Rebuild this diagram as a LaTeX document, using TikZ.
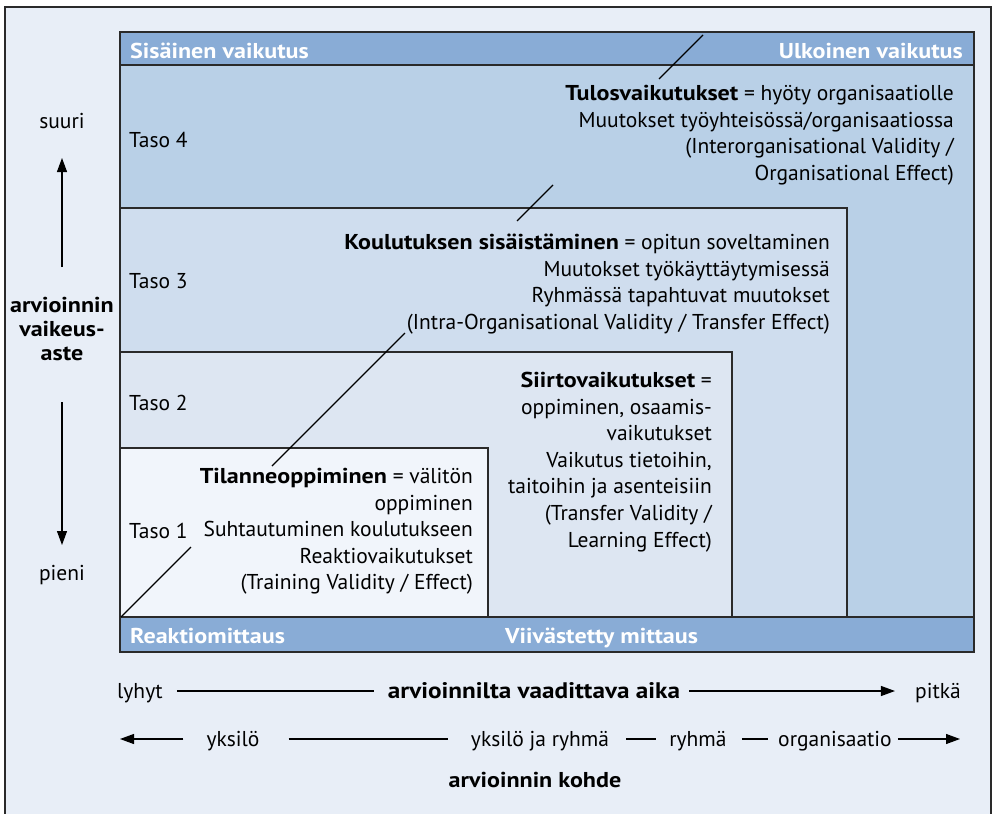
\documentclass[tikz,border=0pt]{standalone}
\usepackage{fontspec}
\setmainfont{PT Sans}[BoldFeatures={FakeStretch=1.12}]
\usetikzlibrary{arrows.meta}

\definecolor{pagebg}{HTML}{E8EEF7}
\definecolor{barblue}{HTML}{89ACD6}
\definecolor{lvfour}{HTML}{B9D0E7}
\definecolor{lvthree}{HTML}{CFDDEE}
\definecolor{lvtwo}{HTML}{DDE6F2}
\definecolor{lvone}{HTML}{F1F5FB}
\definecolor{edge}{HTML}{2A2A2A}

\begin{document}
\begin{tikzpicture}[x=1pt,y=-1pt,
  boxline/.style={draw=edge,line width=1.4pt},
  txt/.style={font=\fontsize{21.5}{26.6}\selectfont,inner sep=0pt,text=black},
  btxt/.style={font=\bfseries\fontsize{21.5}{24}\selectfont,inner sep=0pt,text=black},
  bartxt/.style={font=\bfseries\fontsize{21.5}{26}\selectfont,inner sep=0pt,text=white},
  block/.style={txt,align=right,anchor=north east},
  thin/.style={draw=black,line width=1.1pt},
  arr/.style={thin,-{Triangle[length=14pt,width=10pt]}},
  diag/.style={draw=black,line width=1.1pt}]

\useasboundingbox (0,0) rectangle (997,814);
\clip (0,0) rectangle (997,814);

% page and frame
\fill[white] (0,0) rectangle (997,814);
\path[fill=pagebg,draw=edge,line width=1.2pt] (5,7) rectangle (991,840);

% nested level areas
\path[fill=lvfour,boxline] (120,65) rectangle (974,617);
\path[fill=lvthree,boxline] (120,208) rectangle (847,617);
\path[fill=lvtwo,boxline] (120,352) rectangle (732,617);
\path[fill=lvone,boxline] (120,448) rectangle (488,617);

% top and bottom bars
\path[fill=barblue,boxline] (120,32) rectangle (974,65);
\path[fill=barblue,boxline] (120,617) rectangle (974,652);

\node[bartxt,anchor=base west] (sisainen) at (130,58) {Sisäinen vaikutus};
\node[bartxt,anchor=base east] (ulkoinen) at (963,58) {Ulkoinen vaikutus};
\node[bartxt,anchor=base west] (reaktio) at (130,643) {Reaktiomittaus};
\node[bartxt,anchor=base west] (viive) at (505,643) {Viivästetty mittaus};

% level labels
\node[txt,anchor=base west] (taso4) at (129,147) {Taso 4};
\node[txt,anchor=base west] (taso3) at (129,288) {Taso 3};
\node[txt,anchor=base west] (taso2) at (129,410) {Taso 2};
\node[txt,anchor=base west] (taso1) at (129,538) {Taso 1};

% level descriptions
\node[block] (tulos) at (954,85)
  {\textbf{Tulosvaikutukset} = hyöty organisaatiolle\\
   Muutokset työyhteisössä/organisaatiossa\\
   (Interorganisational Validity /\\
   Organisational Effect)};
\node[block] (koulutus) at (830,234)
  {\textbf{Koulutuksen sisäistäminen} = opitun soveltaminen\\
   Muutokset työkäyttäytymisessä\\
   Ryhmässä tapahtuvat muutokset\\
   (Intra-Organisational Validity / Transfer Effect)};
\node[block] (siirto) at (712,372)
  {\textbf{Siirtovaikutukset} =\\
   oppiminen, osaamis-\\
   vaikutukset\\
   Vaikutus tietoihin,\\
   taitoihin ja asenteisiin\\
   (Transfer Validity /\\
   Learning Effect)};
\node[block] (tilanne) at (473,468)
  {\textbf{Tilanneoppiminen} = välitön\\
   oppiminen\\
   Suhtautuminen koulutukseen\\
   Reaktiovaikutukset\\
   (Training Validity / Effect)};

% diagonal through the levels, interrupted by the descriptions
\coordinate (d1a) at (121,617); \coordinate (d1b) at (191,547);
\coordinate (d2a) at (272,466); \coordinate (d2b) at (405,333);
\coordinate (d3a) at (517,221); \coordinate (d3b) at (553,185);
\coordinate (d4a) at (659,79);  \coordinate (d4b) at (703,35);
\draw[diag] (d1a) -- (d1b);
\draw[diag] (d2a) -- (d2b);
\draw[diag] (d3a) -- (d3b);
\draw[diag] (d4a) -- (d4b);

% vertical scale: difficulty of evaluation
\node[txt,anchor=base] (suuri) at (62,128) {suuri};
\node[txt,anchor=base] (pieni) at (62,580) {pieni};
\node[btxt,align=center,anchor=north] (vaikeus) at (62,297)
  {arvioinnin\\vaikeus-\\aste};
\coordinate (upfrom) at (62,267); \coordinate (upto) at (62,158);
\coordinate (dnfrom) at (62,402); \coordinate (dnto) at (62,545);
\draw[arr] (upfrom) -- (upto);
\draw[arr] (dnfrom) -- (dnto);

% horizontal scale: time required
\coordinate (r1) at (0,691);
\node[txt,anchor=base west] (lyhyt) at (117,698) {lyhyt};
\node[btxt,font=\bfseries\fontsize{22.5}{24}\selectfont,anchor=base] (aika) at (534,698) {arvioinnilta vaadittava aika};
\node[txt,anchor=base east] (pitka) at (961,698) {pitkä};
\draw[thin,shorten <=14pt,shorten >=14pt] (lyhyt.east |- r1) -- (aika.west |- r1);
\draw[arr,shorten <=9pt,shorten >=20pt] (aika.east |- r1) -- (pitka.west |- r1);

% horizontal scale: target of evaluation
\coordinate (r2) at (0,739);
\coordinate (leftend) at (120,739);
\coordinate (rightend) at (960,739);
\node[txt,anchor=base] (yksilo) at (233,746) {yksilö};
\node[txt,anchor=base] (yksryh) at (540,746) {yksilö ja ryhmä};
\node[txt,anchor=base] (ryhma) at (698,746) {ryhmä};
\node[txt,anchor=base] (organ) at (835,746) {organisaatio};
\draw[arr,shorten <=23pt] (yksilo.west |- r2) -- (leftend);
\draw[thin,shorten <=29pt,shorten >=23pt] (yksilo.east |- r2) -- (yksryh.west |- r2);
\draw[thin,shorten <=17pt,shorten >=13pt] (yksryh.east |- r2) -- (ryhma.west |- r2);
\draw[thin,shorten <=15pt,shorten >=10pt] (ryhma.east |- r2) -- (organ.west |- r2);
\draw[arr,shorten <=6pt] (organ.east |- r2) -- (rightend);
\node[btxt,anchor=base] (kohde) at (535,787) {arvioinnin kohde};

\end{tikzpicture}
\end{document}
